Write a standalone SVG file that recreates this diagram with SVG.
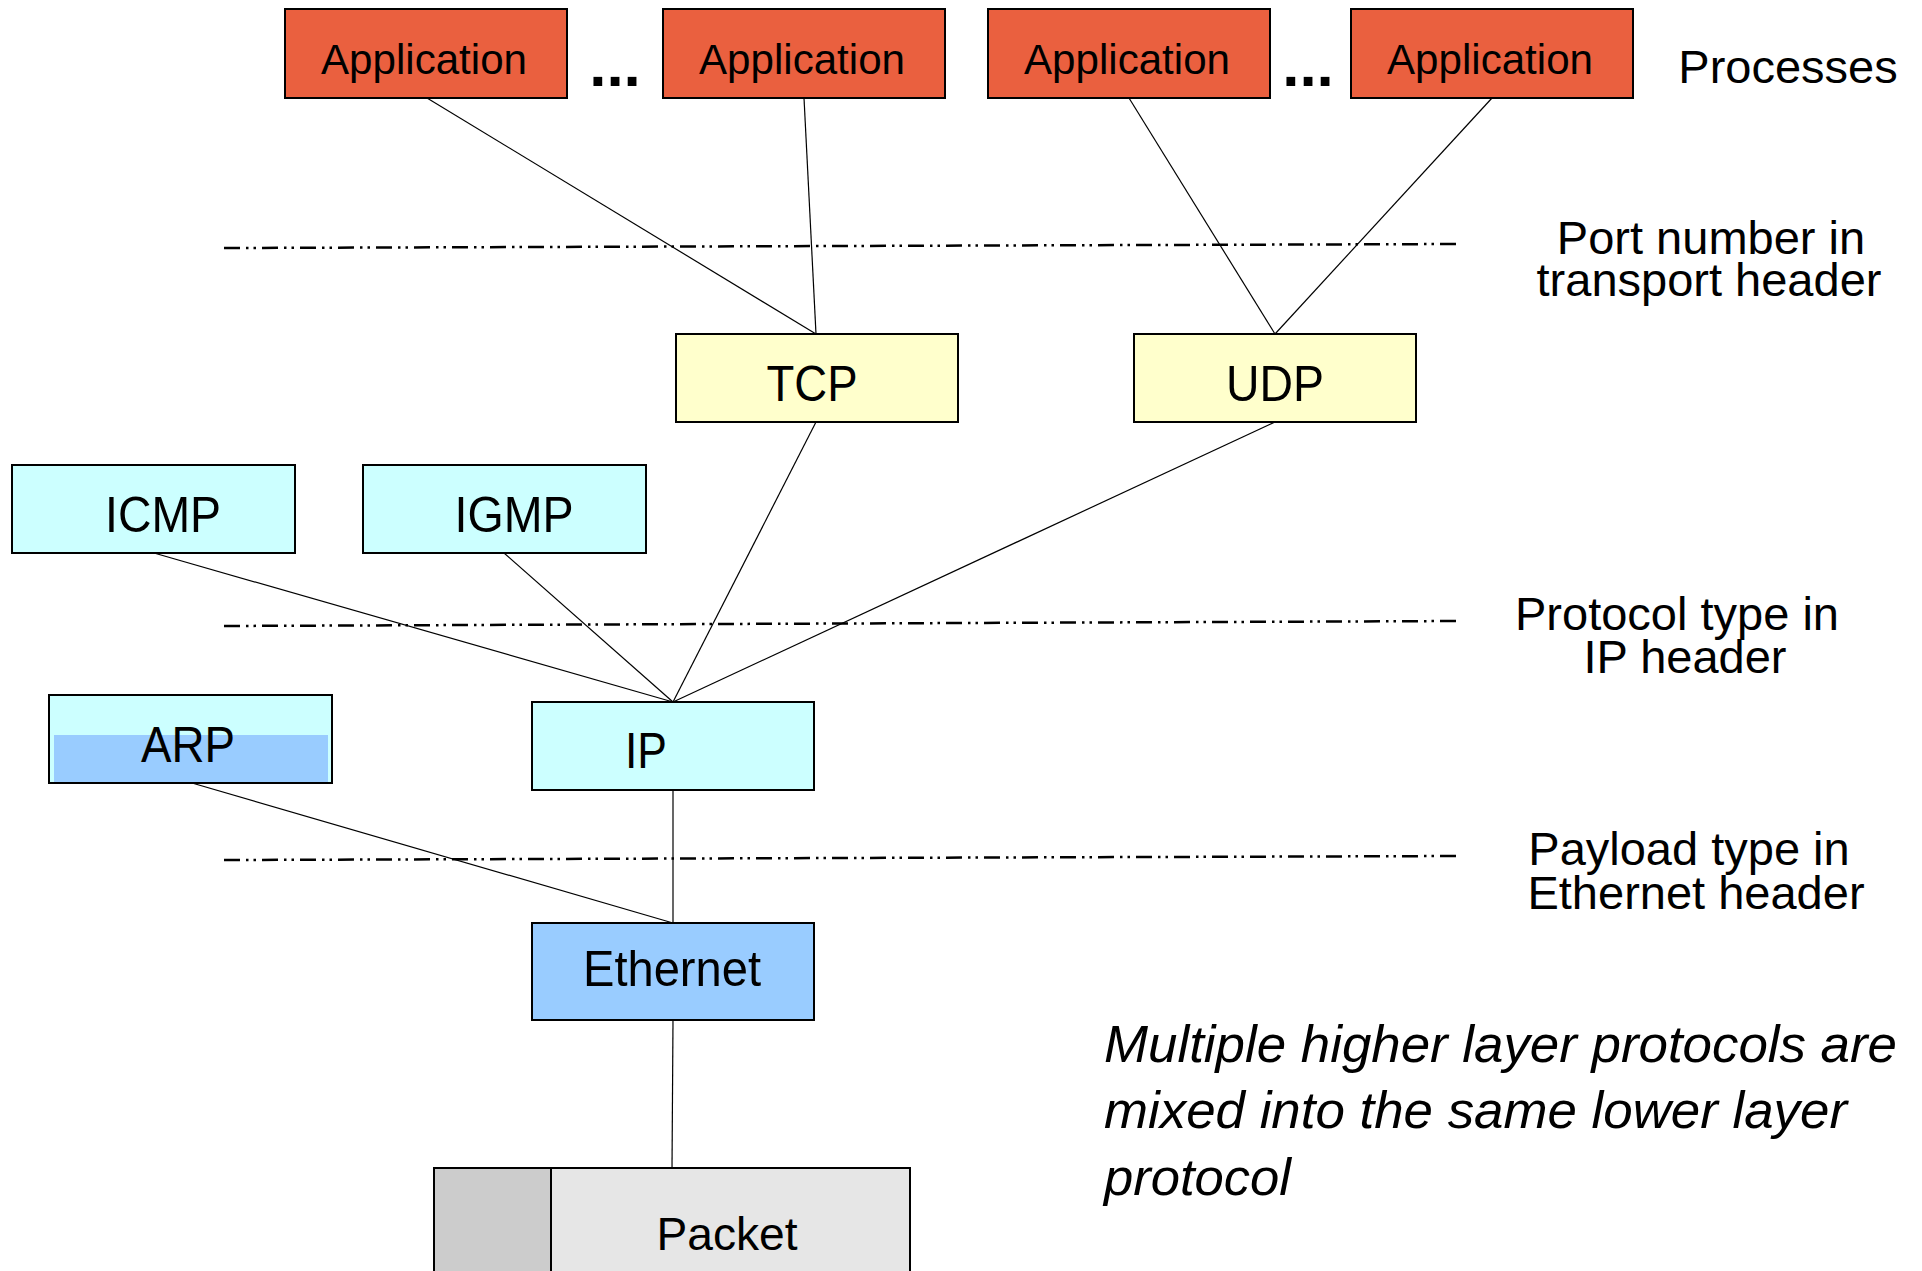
<svg xmlns="http://www.w3.org/2000/svg" width="1922" height="1271" viewBox="0 0 1922 1271">
  <style>
    .box { stroke: #000; stroke-width: 2; }
    .app { fill: #ea603f; }
    .trans { fill: #ffffcc; }
    .net { fill: #ccffff; }
    .eth { fill: #99ccff; }
    .lbl { font-family: "Liberation Sans", Arial, sans-serif; fill: #000; text-anchor: middle; }
    .applbl { font-size: 43px; }
    .protolbl { font-size: 50px; }
    .side { font-family: "Liberation Sans", Arial, sans-serif; font-size: 47px; fill: #000; text-anchor: middle; }
    .note { font-family: "Liberation Sans", Arial, sans-serif; font-size: 52px; font-style: italic; fill: #000; }
    .dots { font-family: "Liberation Sans", Arial, sans-serif; font-size: 62px; font-weight: bold; fill: #000; text-anchor: middle; }
    .conn { stroke: #000; stroke-width: 1.2; fill: none; }
    .sep { stroke: #000; stroke-width: 2.5; fill: none; stroke-dasharray: 16 6 2.5 5 2.5 6; }
  </style>

  <rect width="1922" height="1271" fill="#fff"/>

  <!-- layer boundaries -->
  <g id="separators">
    <line class="sep" x1="224" y1="248" x2="1461" y2="244"/>
    <line class="sep" x1="224" y1="626" x2="1461" y2="621"/>
    <line class="sep" x1="224" y1="860" x2="1461" y2="856"/>
  </g>

  <!-- connectors -->
  <g id="connectors">
    <line class="conn" x1="427" y1="98" x2="816" y2="334"/>
    <line class="conn" x1="804" y1="98" x2="816" y2="334"/>
    <line class="conn" x1="1129" y1="98" x2="1275" y2="334"/>
    <line class="conn" x1="1492" y1="98" x2="1275" y2="334"/>
    <line class="conn" x1="816" y1="422" x2="673" y2="702"/>
    <line class="conn" x1="1275" y1="422" x2="673" y2="702"/>
    <line class="conn" x1="154" y1="553" x2="673" y2="702"/>
    <line class="conn" x1="504" y1="553" x2="673" y2="702"/>
    <line class="conn" x1="192" y1="783" x2="673" y2="923"/>
    <line class="conn" x1="673" y1="790" x2="673" y2="923"/>
    <line class="conn" x1="673" y1="1020" x2="672" y2="1168"/>
  </g>

  <!-- applications -->
  <g id="app1">
    <rect class="box app" x="285" y="9" width="282" height="89"/>
    <text class="lbl applbl" x="424" y="74" textLength="206" lengthAdjust="spacingAndGlyphs">Application</text>
  </g>
  <text class="dots" x="615" y="86">...</text>
  <g id="app2">
    <rect class="box app" x="663" y="9" width="282" height="89"/>
    <text class="lbl applbl" x="802" y="74" textLength="206" lengthAdjust="spacingAndGlyphs">Application</text>
  </g>
  <g id="app3">
    <rect class="box app" x="988" y="9" width="282" height="89"/>
    <text class="lbl applbl" x="1127" y="74" textLength="206" lengthAdjust="spacingAndGlyphs">Application</text>
  </g>
  <text class="dots" x="1308" y="86">...</text>
  <g id="app4">
    <rect class="box app" x="1351" y="9" width="282" height="89"/>
    <text class="lbl applbl" x="1490" y="74" textLength="206" lengthAdjust="spacingAndGlyphs">Application</text>
  </g>

  <!-- transport -->
  <g id="tcp">
    <rect class="box trans" x="676" y="334" width="282" height="88"/>
    <text class="lbl protolbl" x="812" y="401" textLength="91" lengthAdjust="spacingAndGlyphs">TCP</text>
  </g>
  <g id="udp">
    <rect class="box trans" x="1134" y="334" width="282" height="88"/>
    <text class="lbl protolbl" x="1275" y="401" textLength="98" lengthAdjust="spacingAndGlyphs">UDP</text>
  </g>

  <!-- network -->
  <g id="icmp">
    <rect class="box net" x="12" y="465" width="283" height="88"/>
    <text class="lbl protolbl" x="163" y="532" textLength="116" lengthAdjust="spacingAndGlyphs">ICMP</text>
  </g>
  <g id="igmp">
    <rect class="box net" x="363" y="465" width="283" height="88"/>
    <text class="lbl protolbl" x="514" y="532" textLength="119" lengthAdjust="spacingAndGlyphs">IGMP</text>
  </g>
  <g id="arp">
    <rect class="box net" x="49" y="695" width="283" height="88"/>
    <rect x="54" y="735" width="274" height="47" fill="#99ccff"/>
    <text class="lbl protolbl" x="188" y="762" textLength="94" lengthAdjust="spacingAndGlyphs">ARP</text>
  </g>
  <g id="ip">
    <rect class="box net" x="532" y="702" width="282" height="88"/>
    <text class="lbl protolbl" x="646" y="768" textLength="42" lengthAdjust="spacingAndGlyphs">IP</text>
  </g>

  <!-- link -->
  <g id="ethernet">
    <rect class="box eth" x="532" y="923" width="282" height="97"/>
    <text class="lbl protolbl" x="672" y="986" textLength="178" lengthAdjust="spacingAndGlyphs">Ethernet</text>
  </g>
  <g id="packet">
    <rect class="box" x="434" y="1168" width="476" height="120" fill="#e6e6e6"/>
    <rect class="box" x="434" y="1168" width="117" height="120" fill="#cccccc"/>
    <text class="lbl" x="727" y="1250" font-size="46" textLength="141" lengthAdjust="spacingAndGlyphs">Packet</text>
  </g>

  <!-- side labels -->
  <g id="labels">
    <text class="side" x="1788" y="83">Processes</text>
    <text class="side" x="1711" y="254">Port number in</text>
    <text class="side" x="1709" y="296">transport header</text>
    <text class="side" x="1677" y="630">Protocol type in</text>
    <text class="side" x="1685" y="673">IP header</text>
    <text class="side" x="1689" y="865">Payload type in</text>
    <text class="side" x="1696" y="909">Ethernet header</text>
  </g>

  <g id="note">
    <text class="note" x="1104" y="1062" textLength="793" lengthAdjust="spacingAndGlyphs">Multiple higher layer protocols are</text>
    <text class="note" x="1104" y="1128" textLength="743" lengthAdjust="spacingAndGlyphs">mixed into the same lower layer</text>
    <text class="note" x="1104" y="1195" textLength="187" lengthAdjust="spacingAndGlyphs">protocol</text>
  </g>
</svg>
